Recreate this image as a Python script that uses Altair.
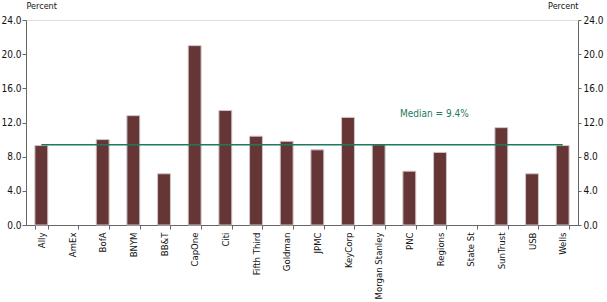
import altair as alt
import pandas as pd

banks = ["Ally", "AmEx", "BofA", "BNYM", "BB&T", "CapOne", "Citi", "Fifth Third",
         "Goldman", "JPMC", "KeyCorp", "Morgan Stanley", "PNC", "Regions",
         "State St", "SunTrust", "USB", "Wells"]
values = [9.3, None, 10.0, 12.8, 6.0, 21.0, 13.4, 10.4,
          9.8, 8.8, 12.6, 9.4, 6.3, 8.5,
          None, 11.4, 6.0, 9.3]
median_value = 9.4
median_label = "Median = 9.4%"
y_ticks = [0, 4, 8, 12, 16, 20, 24]

FONT = "DejaVu Sans Condensed, Liberation Sans, Arial, sans-serif"

df = pd.DataFrame({"bank": banks, "value": values})
df["median"] = median_value

xenc = alt.X("bank:N", sort=banks, title=None,
             scale=alt.Scale(paddingInner=0.58, paddingOuter=0.29),
             axis=alt.Axis(labelAngle=-90, labelAlign="right", labelBaseline="middle",
                           tickBand="extent", tickSize=4, labelPadding=3,
                           labelFont=FONT, labelFontSize=9.5, labelColor="#111",
                           domainColor="#666", tickColor="#666"))

yscale = alt.Scale(domain=[0, 24], nice=False)

bars = alt.Chart(df).mark_bar(color="#663535", stroke="#cfc6c6", strokeWidth=1).encode(
    x=xenc,
    y=alt.Y("value:Q", scale=yscale,
            axis=alt.Axis(values=y_ticks, format=".1f", title="Percent", titleAngle=0,
                          titleAlign="left", titleBaseline="middle", titleX=0, titleY=-15,
                          titleFont=FONT, titleFontSize=9, titleFontWeight="normal",
                          titleColor="#111",
                          labelFont=FONT, labelFontSize=10, labelColor="#111",
                          tickSize=4, labelPadding=1, grid=False,
                          domainColor="#666", tickColor="#666")),
)

line = alt.Chart(df).mark_line(color="#1f7a5c", strokeWidth=1.5).encode(
    x=alt.X("bank:N", sort=banks),
    y=alt.Y("median:Q", scale=yscale,
            axis=alt.Axis(orient="right", values=y_ticks, format=".1f", title="Percent",
                          titleAngle=0, titleAlign="right", titleBaseline="middle",
                          titleX=0, titleY=-15,
                          titleFont=FONT, titleFontSize=9, titleFontWeight="normal",
                          titleColor="#111",
                          labelFont=FONT, labelFontSize=10, labelColor="#111",
                          tickSize=3, labelPadding=2, grid=False,
                          domainColor="#666", tickColor="#666")),
)

label_df = pd.DataFrame({"median": [median_value], "label": [median_label]})
text = alt.Chart(label_df).mark_text(align="left", baseline="middle", dy=-31,
                                     font=FONT, fontSize=10, color="#1f7a5c").encode(
    x=alt.value(374),
    y=alt.Y("median:Q", scale=yscale, axis=None),
    text="label:N",
)

chart = alt.layer(bars, line, text).resolve_scale(y="independent").properties(
    width=552, height=205,
    autosize=alt.AutoSizeParams(type="none"),
    padding={"left": 26, "top": 20, "right": 29, "bottom": 77},
).configure_view(stroke=None).configure(background="white")

chart.save("out.html", embed_options={"renderer": "svg", "actions": False})
